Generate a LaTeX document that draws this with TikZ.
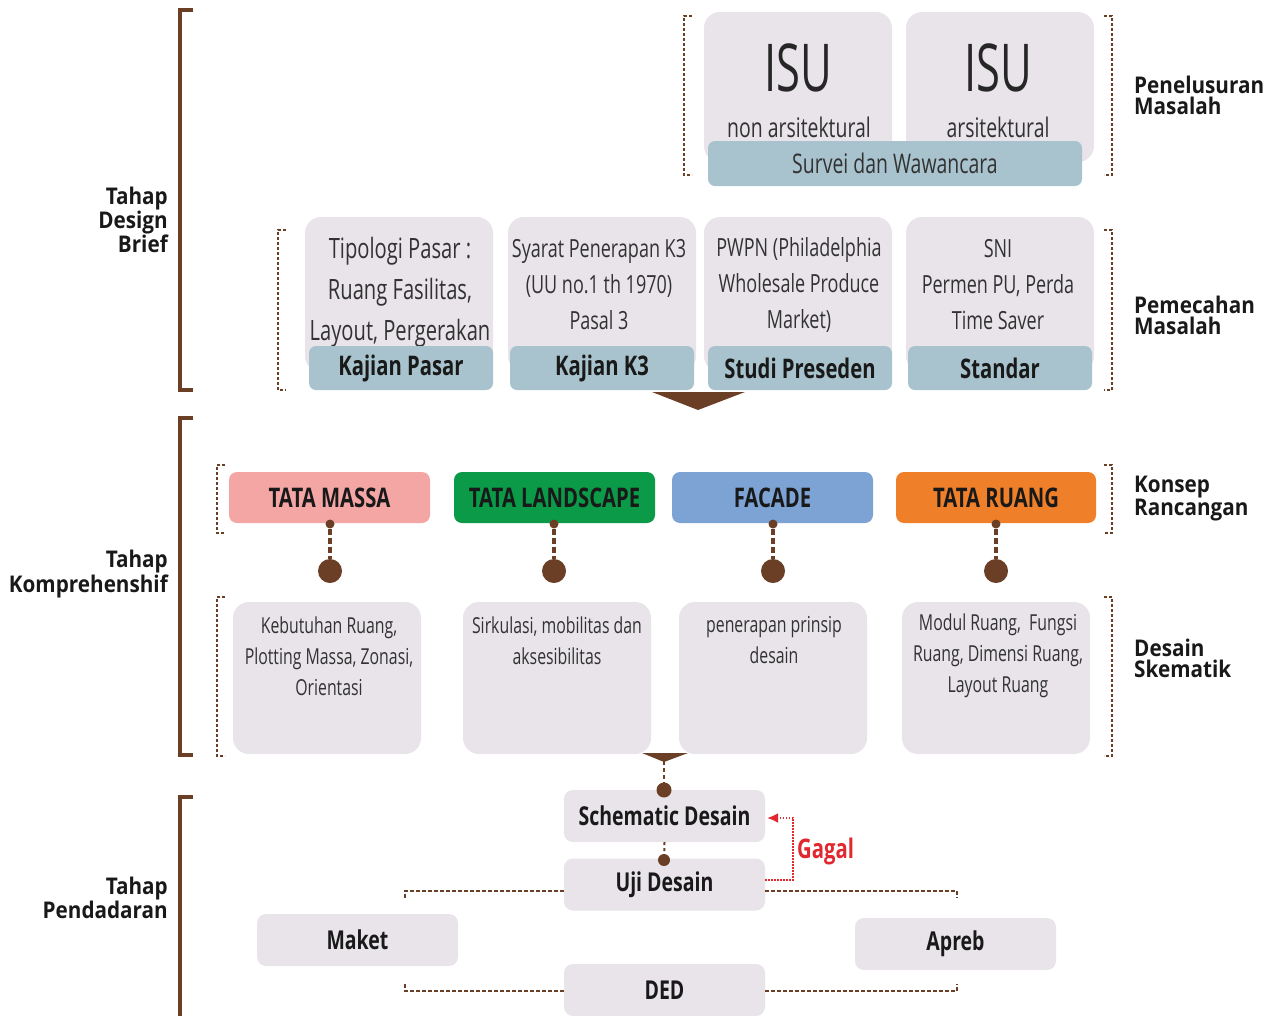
\documentclass[tikz,border=0pt]{standalone}
\usepackage{fontspec}
\setmainfont{Open Sans}[FakeStretch=0.72]
\newfontfamily\isuf{Open Sans}[FakeStretch=0.66]
\newfontfamily\bfc{Open Sans}[FakeStretch=0.75]
\newfontfamily\lblf{Open Sans}[FakeStretch=0.9]
\usetikzlibrary{arrows.meta}
\definecolor{dbrown}{RGB}{107,62,38}
\definecolor{boxgray}{RGB}{232,228,234}
\definecolor{barblue}{RGB}{168,195,205}
\definecolor{cpink}{RGB}{244,166,165}
\definecolor{cgreen}{RGB}{10,154,72}
\definecolor{cblue}{RGB}{124,163,211}
\definecolor{corange}{RGB}{240,127,42}
\definecolor{cred}{RGB}{224,40,46}
\definecolor{txt}{RGB}{50,50,50}
\begin{document}
\begin{tikzpicture}[x=1pt,y=-1pt,
  gbox/.style={fill=boxgray, rounded corners=16pt, inner sep=0pt},
  sbox/.style={fill=boxgray, rounded corners=9pt, inner sep=0pt, minimum width=201pt, minimum height=52pt,
    font=\bfc\bfseries\fontsize{26}{26}\selectfont, text=black!90},
  barbox/.style={fill=barblue, rounded corners=7pt, inner sep=0pt, minimum height=44pt,
    font=\bfc\bfseries\fontsize{27}{27}\selectfont, text=black!90},
  kbox/.style={rounded corners=8pt, inner sep=0pt, minimum width=201pt, minimum height=51pt,
    font=\bfc\bfseries\fontsize{27}{27}\selectfont, text=black!90},
  ltext/.style={align=center, text=txt, inner sep=0pt},
  phase/.style={draw=dbrown, line width=3.5pt},
  dbr/.style={draw=dbrown, line width=1.3pt, dash pattern=on 3pt off 2pt},
  lbl/.style={font=\lblf\bfseries\fontsize{23}{21}\selectfont, inner sep=0pt, text=black!90},
  sdot/.style={circle, fill=dbrown, inner sep=0pt, minimum size=9pt},
  bdot/.style={circle, fill=dbrown, inner sep=0pt, minimum size=24pt},
  vdash/.style={draw=dbrown, line width=3.5pt, dash pattern=on 6pt off 3pt},
  tdash/.style={draw=dbrown, line width=1.5pt, dash pattern=on 4pt off 2pt},
]
\useasboundingbox (0,0) rectangle (1271,1015);

% phase brackets
\draw[phase] (193,10) -- (180,10) -- (180,390) -- (193,390);
\draw[phase] (193,418) -- (180,418) -- (180,755) -- (193,755);
\draw[phase] (193,797) -- (180,797) -- (180,1017);
\node[lbl, align=right, anchor=east] (ph1) at (168,220) {Tahap\\Design\\Brief};
\node[lbl, align=right, anchor=east] (ph2) at (168,574) {Tahap\\Komprehenshif};
\node[lbl, align=right, anchor=east] (ph3) at (168,898) {Tahap\\Pendadaran};

% right labels
\node[lbl, align=left, anchor=west] (r1) at (1134,95) {Penelusuran\\Masalah};
\node[lbl, align=left, anchor=west] (r2) at (1134,315) {Pemecahan\\Masalah};
\node[lbl, align=left, anchor=west] (r3) at (1134,499) {Konsep\\Rancangan};
\node[lbl, align=left, anchor=west] (r4) at (1134,658) {Desain\\Skematik};

% dashed brackets
\draw[dbr] (692,16) -- (684,16) -- (684,175) -- (692,175);
\draw[dbr] (1104,16) -- (1112,16) -- (1112,175) -- (1104,175);
\draw[dbr] (286,230) -- (278,230) -- (278,390) -- (286,390);
\draw[dbr] (1104,230) -- (1112,230) -- (1112,390) -- (1104,390);
\draw[dbr] (225,465) -- (217,465) -- (217,533) -- (225,533);
\draw[dbr] (1104,465) -- (1112,465) -- (1112,533) -- (1104,533);
\draw[dbr] (225,597) -- (217,597) -- (217,756) -- (225,756);
\draw[dbr] (1104,597) -- (1112,597) -- (1112,756) -- (1104,756);

% ISU boxes
\node[gbox, minimum width=188pt, minimum height=150pt] (isu1) at (798,87) {};
\node[gbox, minimum width=188pt, minimum height=150pt] (isu2) at (1000,87) {};
\node[ltext, font=\isuf\fontsize{66}{66}\selectfont, text=black!85] (isu1t) at (798,68) {ISU};
\node[ltext, font=\isuf\fontsize{66}{66}\selectfont, text=black!85] (isu2t) at (998,68) {ISU};
\node[ltext, font=\fontsize{27}{27}\selectfont] (isu1s) at (799,127) {non arsitektural};
\node[ltext, font=\fontsize{27}{27}\selectfont] (isu2s) at (998,127) {arsitektural};
\node[fill=barblue, rounded corners=7pt, inner sep=0pt, minimum width=374pt, minimum height=45pt,
  font=\fontsize{27}{27}\selectfont, text=txt] (survei) at (895,163.5) {Survei dan Wawancara};

% row 2
\node[gbox, minimum width=188pt, minimum height=155pt] (ga) at (399,294.5) {};
\node[gbox, minimum width=188pt, minimum height=155pt] (gb) at (602,294.5) {};
\node[gbox, minimum width=188pt, minimum height=155pt] (gc) at (798,294.5) {};
\node[gbox, minimum width=188pt, minimum height=155pt] (gd) at (1000,294.5) {};
\node[ltext, font=\fontsize{28}{41}\selectfont] (gat) at (400,292) {Tipologi Pasar :\\Ruang Fasilitas,\\Layout, Pergerakan};
\node[ltext, font=\fontsize{25}{36}\selectfont] (gbt) at (599,285) {Syarat Penerapan K3\\(UU no.1 th 1970)\\Pasal 3};
\node[ltext, font=\fontsize{25}{36}\selectfont] (gct) at (799,285) {PWPN (Philadelphia\\Wholesale Produce\\Market)};
\node[ltext, font=\fontsize{25}{36}\selectfont] (gdt) at (998,285) {SNI\\Permen PU, Perda\\Time Saver};
\node[barbox, minimum width=184pt] (kp) at (401,368) {\raisebox{-2pt}{Kajian Pasar}};
\node[barbox, minimum width=184pt] (kk) at (602,368) {\raisebox{-2pt}{Kajian K3}};
\node[barbox, minimum width=184pt] (sp) at (800,368) {\raisebox{-2pt}{Studi Preseden}};
\node[barbox, minimum width=184pt] (st) at (1000,368) {\raisebox{-2pt}{Standar}};

% big triangle
\fill[dbrown] (652,392) -- (745,392) -- (698,410) -- cycle;

% konsep
\node[kbox, fill=cpink] (tm) at (329.5,497.5) {TATA MASSA};
\node[kbox, fill=cgreen] (tl) at (554.5,497.5) {TATA LANDSCAPE};
\node[kbox, fill=cblue] (fc) at (772.5,497.5) {FACADE};
\node[kbox, fill=corange, minimum width=200pt] (tr) at (996,497.5) {TATA RUANG};

\foreach \n/\x in {1/330,2/554,3/773,4/996}{
  \node[sdot] (s\n) at (\x,524) {};
  \node[bdot] (b\n) at (\x,571) {};
  \draw[vdash] (s\n) -- (b\n);
}

% desain
\node[gbox, minimum width=188pt, minimum height=152pt] (d1) at (327,678) {};
\node[gbox, minimum width=188pt, minimum height=152pt] (d2) at (557,678) {};
\node[gbox, minimum width=188pt, minimum height=152pt] (d3) at (773,678) {};
\node[gbox, minimum width=188pt, minimum height=152pt] (d4) at (996,678) {};
\node[ltext, font=\fontsize{22}{31}\selectfont] (d1t) at (329,656) {Kebutuhan Ruang,\\Plotting Massa, Zonasi,\\Orientasi};
\node[ltext, font=\fontsize{22}{31}\selectfont] (d2t) at (557,640.5) {Sirkulasi, mobilitas dan\\aksesibilitas};
\node[ltext, font=\fontsize{22}{31}\selectfont] (d3t) at (774,640.5) {penerapan prinsip\\desain};
\node[ltext, font=\fontsize{22}{31}\selectfont] (d4t) at (998,656) {Modul Ruang,\ \ Fungsi\\Ruang, Dimensi Ruang,\\Layout Ruang};

% bottom
\fill[dbrown] (642,753) -- (688,753) -- (664,762) -- cycle;
\coordinate (ft) at (664,761);
\node[sbox] (sch) at (664.5,816) {Schematic Desain};
\node[sbox] (uji) at (664.5,884.5) {Uji Desain};
\node[sbox] (ded) at (664.5,990) {DED};
\node[sbox] (maket) at (357.5,940) {Maket};
\node[sbox] (apreb) at (955.5,944) {Apreb};
\node[circle, fill=dbrown, inner sep=0pt, minimum size=15pt] (dt1) at (664,790) {};
\node[circle, fill=dbrown, inner sep=0pt, minimum size=12pt] (dt2) at (664,860) {};
\draw[draw=dbrown, line width=2.5pt, dash pattern=on 4pt off 3pt] (ft) -- (dt1);
\draw[draw=dbrown, line width=2pt, dash pattern=on 3pt off 3pt] (sch.south) -- (dt2);

\coordinate (ul) at (405,891);
\coordinate (ur) at (957,891);
\coordinate (dl) at (405,991);
\coordinate (dr) at (957,991);
\draw[tdash] ([yshift=-6.5pt]uji.west) -- (ul) -- ++(0,7);
\draw[tdash] ([yshift=-6.5pt]uji.east) -- (ur) -- ++(0,7);
\draw[tdash] ([yshift=-1pt]ded.west) -- (dl) -- ++(0,-7);
\draw[tdash] ([yshift=-1pt]ded.east) -- (dr) -- ++(0,-7);

% gagal
\draw[draw=cred, line width=1.6pt, dash pattern=on 1.6pt off 1.4pt, -{Latex[length=11pt,width=10pt]}]
  ([yshift=4.5pt]uji.east) -- ++(28,0) |- ([xshift=2pt,yshift=-2pt]sch.east);
\node[font=\bfc\bfseries\fontsize{27}{27}\selectfont, text=cred, anchor=west, inner sep=0pt] (gagal) at (797,851) {Gagal};
\end{tikzpicture}
\end{document}
